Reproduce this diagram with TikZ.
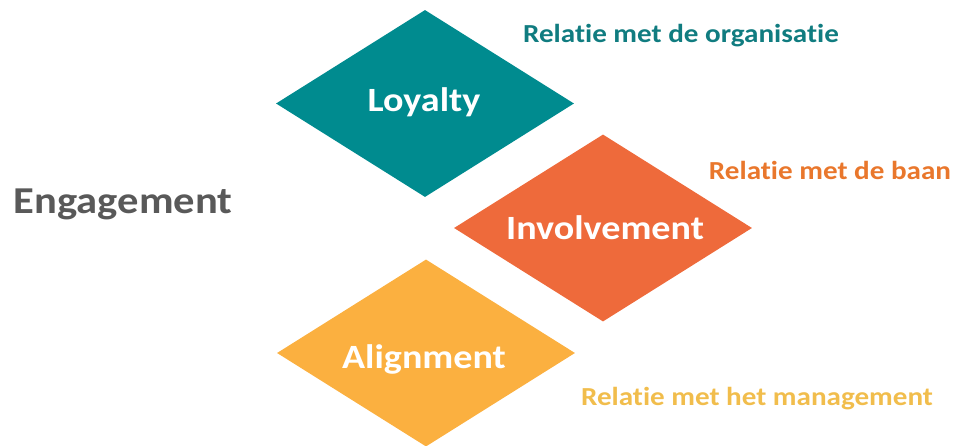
\documentclass[tikz,border=0pt]{standalone}
\usepackage{fontspec}
\setmainfont{Carlito}[FakeStretch=1.12,Ligatures=NoCommon]
\usetikzlibrary{shapes.geometric}

\definecolor{loyaltyteal}{RGB}{0,139,143}
\definecolor{involveorange}{RGB}{238,106,59}
\definecolor{alignyellow}{RGB}{251,176,64}
\definecolor{tealtext}{RGB}{16,124,128}
\definecolor{orangetext}{RGB}{233,119,44}
\definecolor{yellowtext}{RGB}{241,189,76}
\definecolor{engagegray}{RGB}{89,89,89}

\begin{document}
\begin{tikzpicture}[x=1pt,y=-1pt,
  ruit/.style={diamond,draw=none,inner sep=0pt,minimum width=298pt,minimum height=187pt},
  ruitlabel/.style={anchor=base,text=white,font=\bfseries\fontsize{34}{38}\selectfont},
  relatie/.style={anchor=base,font=\bfseries\fontsize{26}{30}\selectfont}]
\tikzstyle{every node}+=[inner sep=0pt]
\useasboundingbox (0,0) rectangle (955,446);
% de drie ruiten
\node [ruit,fill=loyaltyteal] (loyalty) at (425,103.5) {};
\node [ruit,fill=involveorange] (involvement) at (603,228) {};
\node [ruit,fill=alignyellow] (alignment) at (426,353) {};
\node [ruitlabel] (loyaltytxt) at (424,112) {Loyalty};
\node [ruitlabel] (involvementtxt) at (605,240) {Involvement};
\node [ruitlabel] (alignmenttxt) at (424,368) {Alignment};
% de relaties
\node [relatie,text=tealtext] (organisatie) at (681,43) {Relatie met de organisatie};
\node [relatie,text=orangetext] (baan) at (830,180) {Relatie met de baan};
\node [relatie,text=yellowtext] (management) at (757,405) {Relatie met het management};
\node [anchor=base,text=engagegray,font=\bfseries\fontsize{38}{44}\selectfont] (engagement) at (123,214) {Engagement};
\end{tikzpicture}
\end{document}
